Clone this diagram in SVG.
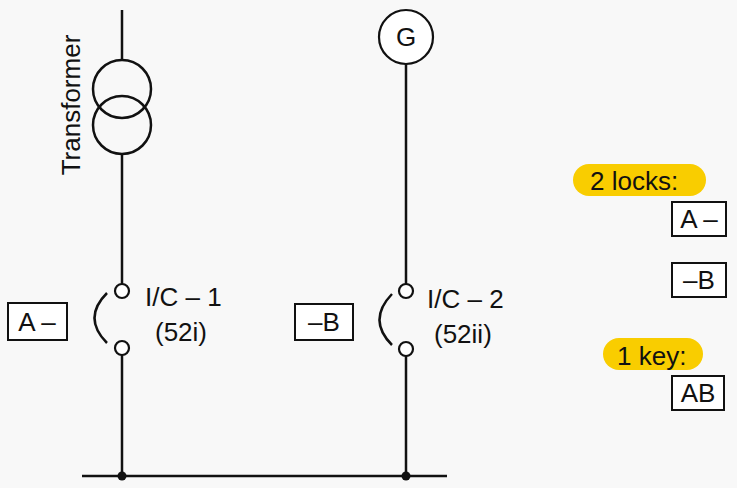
<svg xmlns="http://www.w3.org/2000/svg" width="737" height="488" viewBox="0 0 737 488">
<style>
.l{stroke:#111;stroke-width:2.5;fill:none}
.c{stroke:#111;stroke-width:2.2;fill:#fff}
.t{font-family:"Liberation Sans",Arial,sans-serif;font-size:26px;fill:#111}
.b{stroke:#111;stroke-width:2;fill:#fff}
.h{fill:#f9cd00}
</style>
<rect width="737" height="488" fill="#f8f8f8"/>
<g id="connectors">
<line class="l" x1="122" y1="10" x2="122" y2="60"/>
<line class="l" x1="122" y1="154" x2="122" y2="284"/>
<line class="l" x1="122" y1="355" x2="122" y2="476"/>
<line class="l" x1="406" y1="64" x2="406" y2="284"/>
<line class="l" x1="406" y1="356" x2="406" y2="476"/>
<line class="l" x1="82" y1="476" x2="447" y2="476"/>
<circle cx="122" cy="476" r="4.5" fill="#111"/>
<circle cx="406" cy="476" r="4.5" fill="#111"/>
</g>
<g id="transformer">
<circle class="l" cx="122" cy="89" r="29"/>
<circle class="l" cx="122" cy="125" r="29"/>
<text class="t" transform="translate(80,105) rotate(-90)" text-anchor="middle">Transformer</text>
</g>
<g id="generator">
<circle class="c" cx="406" cy="37" r="27"/>
<text class="t" x="406" y="46" text-anchor="middle">G</text>
</g>
<g id="ic1">
<circle class="c" cx="122" cy="291" r="7"/>
<circle class="c" cx="122" cy="348" r="7"/>
<path class="l" d="M107,293 Q82,318 107,343"/>
<text class="t" x="145" y="306">I/C – 1</text>
<text class="t" x="155" y="341">(52i)</text>
</g>
<g id="ic2">
<circle class="c" cx="406" cy="291" r="7"/>
<circle class="c" cx="406" cy="349" r="7"/>
<path class="l" d="M392,294 Q367,320 392,345"/>
<text class="t" x="427" y="308">I/C – 2</text>
<text class="t" x="434" y="343">(52ii)</text>
</g>
<g id="lockA">
<rect class="b" x="8" y="303" width="59" height="37"/>
<text class="t" x="37" y="331" text-anchor="middle">A –</text>
</g>
<g id="lockB">
<rect class="b" x="295" y="304" width="58" height="36"/>
<text class="t" x="324" y="331" text-anchor="middle">–B</text>
</g>
<g id="legend-locks">
<rect class="h" x="573" y="164" width="133" height="32" rx="16"/>
<text class="t" x="590" y="190">2 locks:</text>
</g>
<g id="legend-A">
<rect class="b" x="672" y="202" width="54" height="34"/>
<text class="t" x="699" y="228" text-anchor="middle">A –</text>
</g>
<g id="legend-B">
<rect class="b" x="672" y="263" width="54" height="34"/>
<text class="t" x="699" y="289" text-anchor="middle">–B</text>
</g>
<g id="legend-key">
<rect class="h" x="603" y="338" width="100" height="32" rx="16"/>
<text class="t" x="617" y="365">1 key:</text>
</g>
<g id="legend-AB">
<rect class="b" x="672" y="376" width="52" height="34"/>
<text class="t" x="698" y="402" text-anchor="middle">AB</text>
</g>
</svg>
